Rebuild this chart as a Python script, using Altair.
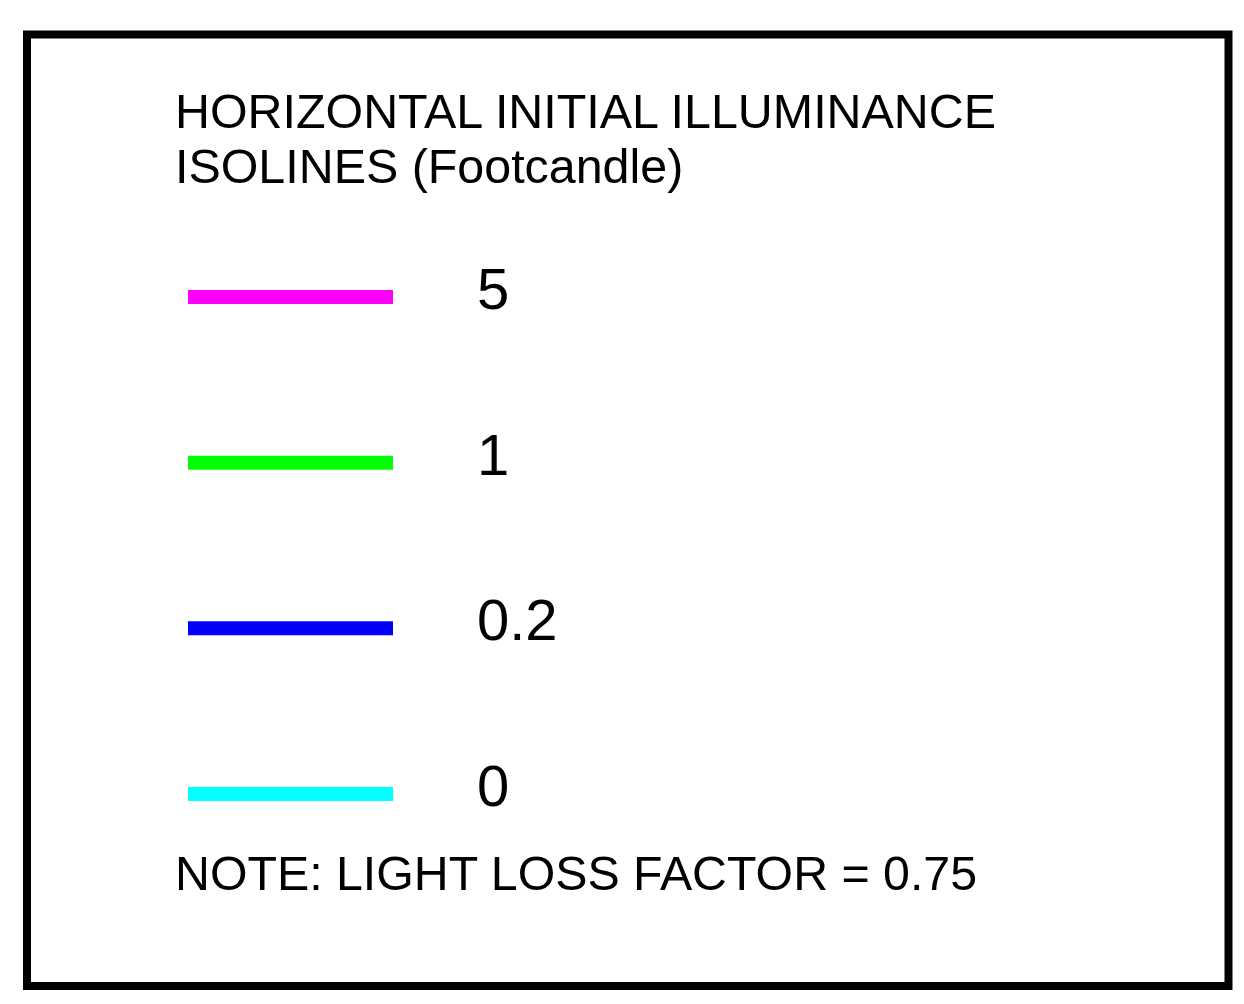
import altair as alt
import pandas as pd

# ---- data ----
title_lines = ["HORIZONTAL INITIAL ILLUMINANCE", "ISOLINES (Footcandle)"]
levels = ["5", "1", "0.2", "0"]
level_colors = ["#ff00ff", "#00ff00", "#0000ff", "#00ffff"]
rows = [0, 1, 2, 3]
note_text = "NOTE: LIGHT LOSS FACTOR = 0.75"

df = pd.DataFrame({"level": levels, "row": rows})

FONT = "Liberation Sans"

y_scale = alt.Scale(domain=[0, 3], range=[262.5, 759.5])
color_scale = alt.Scale(domain=levels, range=level_colors)

base = alt.Chart(df)

swatches = base.mark_rule(strokeWidth=14, strokeCap="butt").encode(
    x=alt.value(161),
    x2=alt.value(366),
    y=alt.Y("row:Q", scale=y_scale, axis=None),
    color=alt.Color("level:N", scale=color_scale, legend=None),
)

labels = base.mark_text(
    align="left", baseline="alphabetic", dy=12, fontSize=58, font=FONT, color="black"
).encode(
    x=alt.value(450),
    y=alt.Y("row:Q", scale=y_scale, axis=None),
    text="level:N",
)

title = alt.Chart(pd.DataFrame({"t": [0]})).mark_text(
    align="left", baseline="alphabetic", fontSize=48.4, font=FONT, color="black",
    lineHeight=55,
).encode(
    x=alt.value(148),
    y=alt.value(93.5),
    text=alt.value(title_lines),
)

note = alt.Chart(pd.DataFrame({"t": [0]})).mark_text(
    align="left", baseline="alphabetic", fontSize=48.3, font=FONT, color="black",
).encode(
    x=alt.value(148),
    y=alt.value(855.5),
    text=alt.value(note_text),
)

chart = alt.layer(title, swatches, labels, note).properties(
    width=1201.5,
    height=951.5,
    padding={"left": 19, "top": 26.5, "right": 6, "bottom": 10},
    autosize="none",
    background="white",
).configure_view(stroke="black", strokeWidth=8)

chart.save("out.html", embed_options={"renderer": "svg", "actions": False})
